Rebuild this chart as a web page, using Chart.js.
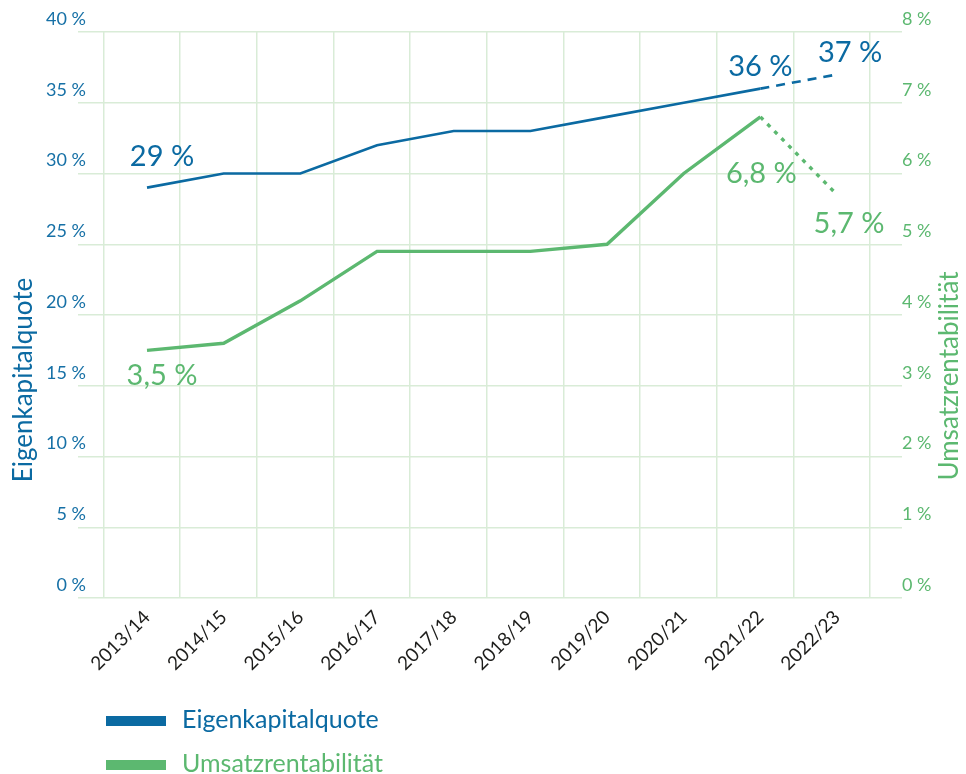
<!DOCTYPE html>
<html lang="de">
<head>
<meta charset="utf-8">
<title>Eigenkapitalquote und Umsatzrentabilität</title>
<script src="https://cdn.jsdelivr.net/npm/chart.js@4.4.1/dist/chart.umd.min.js"></script>
<style>
  html, body { margin: 0; padding: 0; background: #ffffff; }
  #wrap { position: relative; width: 966px; height: 774px; font-family: Lato, "Noto Sans", sans-serif; }
  #wrap canvas { position: absolute; left: 0; top: 0; }
  .leg { position: absolute; left: 106px; height: 24px; display: flex; align-items: center; font-size: 25px; }
  .leg .bar { width: 60px; height: 10px; margin-right: 16px; }
  .leg .txt { position: relative; top: -3px; }
</style>
</head>
<body>
<div id="wrap">
  <canvas id="c" width="966" height="774"></canvas>
  <div class="leg" id="leg1" style="top:709px;color:#0b6aa2"><span class="bar" style="background:#0b6aa2"></span><span class="txt">Eigenkapitalquote</span></div>
  <div class="leg" id="leg2" style="top:753px;color:#5cb870"><span class="bar" style="background:#5cb870"></span><span class="txt">Umsatzrentabilität</span></div>
</div>
<script>
// ---- data ----
const categories = ['2013/14','2014/15','2015/16','2016/17','2017/18','2018/19','2019/20','2020/21','2021/22','2022/23'];
const eigenkapitalquote = [29, 30, 30, 32, 33, 33, 34, 35, 36, 37];
const umsatzrentabilitaet = [3.5, 3.6, 4.2, 4.9, 4.9, 4.9, 5.0, 6.0, 6.8, 5.7];
const seriesNames = ['Eigenkapitalquote', 'Umsatzrentabilität'];
const forecastIndex = 9;            // last year is a forecast (dashed)
const labelledPoints = [0, 8, 9];   // points that carry a value label

// ---- styles ----
const BLUE = '#0b6aa2';
const GREEN = '#5cb870';
const GRID = '#d9ecd7';
const FONT = 'Lato, "Noto Sans", sans-serif';
const TICK_SIZE = 18;
// label offsets (text centre x, baseline y) relative to the point
const labelOffsets = [
  [[15, -22], [0, -13], [13, -12]],
  [[15, 35], [1, 66], [12, 38]]
];

const fmt = v => String(v).replace('.', ',') + ' %';
const toXY = arr => arr.map((v, i) => ({ x: i, y: v }));

// widest left tick label width (used to place mirrored, right-aligned labels)
const mctx = document.createElement('canvas').getContext('2d');
mctx.font = TICK_SIZE + 'px ' + FONT;
const widestLeft = Math.max(...[0,5,10,15,20,25,30,35,40].map(v => mctx.measureText(v + ' %').width));

const valueLabels = {
  id: 'valueLabels',
  afterDatasetsDraw(chart) {
    const ctx = chart.ctx;
    ctx.save();
    ctx.font = '29px ' + FONT;
    ctx.textAlign = 'center';
    ctx.textBaseline = 'alphabetic';
    chart.data.datasets.forEach((ds, di) => {
      const meta = chart.getDatasetMeta(di);
      ctx.fillStyle = ds.borderColor;
      labelledPoints.forEach((pi, k) => {
        const pt = meta.data[pi];
        const off = labelOffsets[di][k];
        ctx.fillText(fmt(ds.data[pi].y), pt.x + off[0], pt.y + off[1]);
      });
    });
    ctx.restore();
  }
};

const axisTitles = {
  id: 'axisTitles',
  afterDraw(chart) {
    const ctx = chart.ctx;
    const a = chart.chartArea;
    const draw = (text, x, y, color) => {
      ctx.save();
      ctx.font = '26px ' + FONT;
      ctx.textAlign = 'center';
      ctx.textBaseline = 'middle';
      ctx.translate(x, y);
      ctx.rotate(-Math.PI / 2);
      ctx.fillStyle = color;
      ctx.fillText(text, 0, 0);
      ctx.restore();
    };
    draw(seriesNames[0], 24, a.bottom - 218, BLUE);
    draw(seriesNames[1], 950, a.bottom - 222, GREEN);
  }
};

new Chart(document.getElementById('c'), {
  type: 'line',
  data: {
    datasets: [
      {
        label: seriesNames[0],
        data: toXY(eigenkapitalquote),
        yAxisID: 'y',
        xAxisID: 'x',
        borderColor: BLUE,
        backgroundColor: BLUE,
        borderWidth: 2.6,
        pointRadius: 0,
        tension: 0,
        segment: { borderDash: c => c.p1DataIndex === forecastIndex ? [9, 7] : undefined }
      },
      {
        label: seriesNames[1],
        data: toXY(umsatzrentabilitaet),
        yAxisID: 'y1',
        xAxisID: 'x',
        borderColor: GREEN,
        backgroundColor: GREEN,
        borderWidth: 3.4,
        pointRadius: 0,
        tension: 0,
        segment: { borderDash: c => c.p1DataIndex === forecastIndex ? [4, 6] : undefined }
      }
    ]
  },
  options: {
    responsive: false,
    animation: false,
    layout: { padding: { left: 38, right: 24, top: 32, bottom: 96 } },
    plugins: { legend: { display: false }, tooltip: { enabled: false } },
    scales: {
      x: {
        type: 'linear',
        position: 'bottom',
        min: -0.9,
        max: 9.847,
        afterBuildTicks: s => { s.ticks = categories.map((_, i) => ({ value: i })); },
        afterFit: s => { s.height = 80; },
        grid: { display: false, drawTicks: false },
        border: { display: false },
        ticks: {
          autoSkip: false,
          minRotation: 45,
          maxRotation: 45,
          padding: 8,
          color: '#1d1d1b',
          font: { family: FONT, size: 19 },
          callback: v => categories[v]
        }
      },
      xg: {
        type: 'linear',
        position: 'bottom',
        min: -0.9,
        max: 9.847,
        afterBuildTicks: s => { s.ticks = categories.concat(['']).map((_, k) => ({ value: k - 0.57 })); },
        afterFit: s => { s.height = 0; },
        grid: { color: GRID, lineWidth: 1.5, drawTicks: false },
        border: { display: false },
        ticks: { display: false }
      },
      y: {
        position: 'left',
        min: 0,
        max: 40,
        afterFit: s => { s.width = 40; },
        grid: { color: GRID, lineWidth: 1.5, drawTicks: false },
        border: { display: false },
        ticks: {
          stepSize: 5,
          mirror: true,
          crossAlign: 'far',
          padding: 8 - widestLeft,
          labelOffset: -13,
          color: '#1670a6',
          font: { family: FONT, size: TICK_SIZE },
          callback: v => v + ' %'
        }
      },
      y1: {
        position: 'right',
        min: 0,
        max: 8,
        afterFit: s => { s.width = 40; },
        grid: { display: false, drawTicks: false },
        border: { display: false },
        ticks: {
          stepSize: 1,
          padding: 0,
          labelOffset: -13,
          color: GREEN,
          font: { family: FONT, size: TICK_SIZE },
          callback: v => v + ' %'
        }
      }
    }
  },
  plugins: [valueLabels, axisTitles]
});
</script>
</body>
</html>
